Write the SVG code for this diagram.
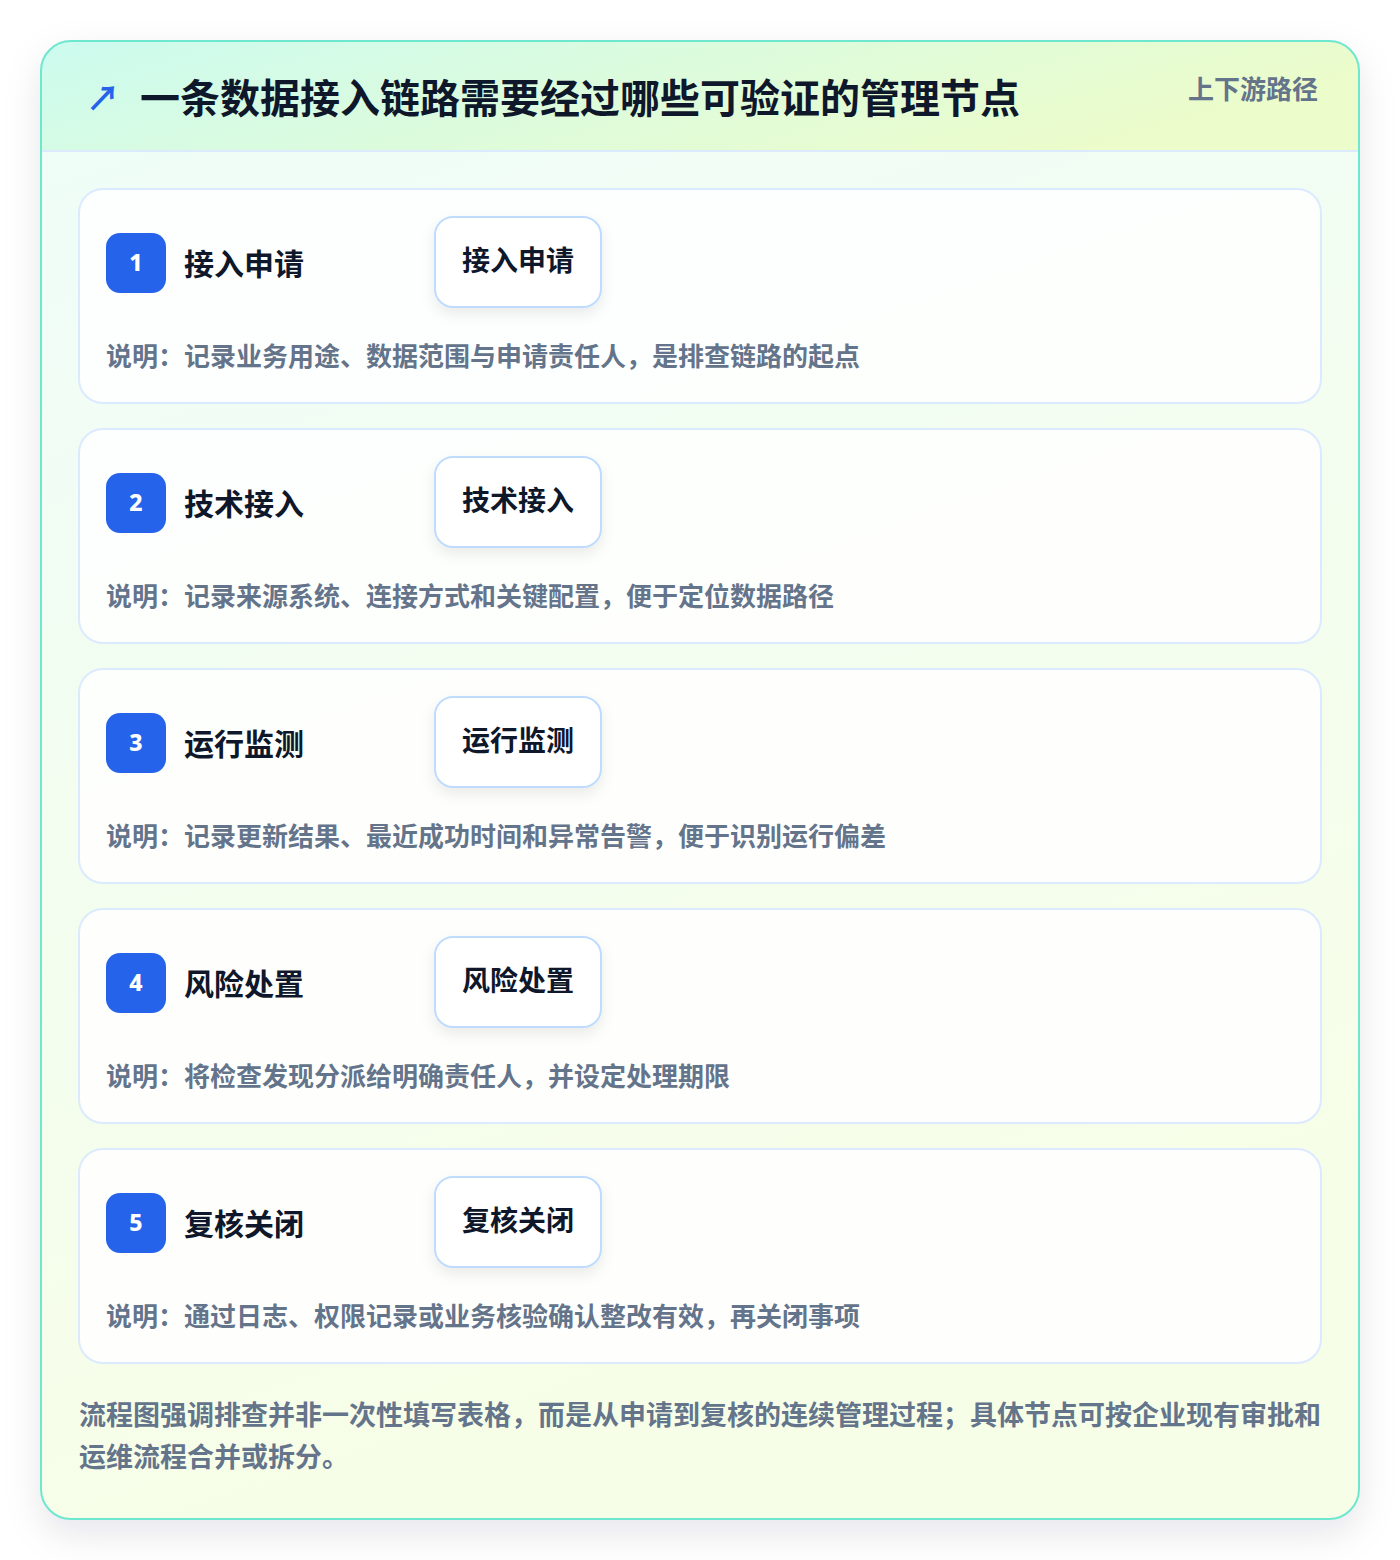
<svg xmlns="http://www.w3.org/2000/svg" width="1400" height="1560" viewBox="0 0 1400 1560">
<defs>
<linearGradient id="hdr" x1="0" y1="0" x2="1" y2="0.3">
<stop offset="0" stop-color="#ccfbef"/>
<stop offset="1" stop-color="#ecfccb"/>
</linearGradient>
<linearGradient id="body" x1="0" y1="0" x2="0.3" y2="1">
<stop offset="0" stop-color="#effdf9"/>
<stop offset="1" stop-color="#f7fee7"/>
</linearGradient>
<clipPath id="outerClip"><rect x="41" y="41" width="1318" height="1478" rx="30"/></clipPath>
<filter id="sh" x="-10%" y="-10%" width="120%" height="120%">
<feDropShadow dx="0" dy="14" stdDeviation="18" flood-color="#0f172a" flood-opacity="0.10"/>
</filter>
<filter id="bsh" x="-20%" y="-20%" width="140%" height="160%">
<feDropShadow dx="0" dy="6" stdDeviation="7" flood-color="#0f172a" flood-opacity="0.08"/>
</filter>
<style>
text{font-family:"Noto Sans CJK SC","Noto Sans",sans-serif;font-weight:700}
.card{fill:#ffffff;fill-opacity:0.85;stroke:#dbeafe;stroke-width:2}
.badge{fill:#2563eb}
.num{fill:#ffffff;font-size:23px;text-anchor:middle;font-family:"Noto Sans","Noto Sans CJK SC",sans-serif;font-weight:800}
.ttl{fill:#0f172a;font-size:30px}
.btn{fill:#ffffff;stroke:#bfdbfe;stroke-width:2}
.btxt{fill:#0f172a;font-size:28px;text-anchor:middle}
.desc{fill:#64748b;font-size:26px}
.foot{fill:#64748b;font-size:27px}
</style>
</defs>
<rect width="1400" height="1560" fill="#ffffff"/>
<g id="frame">
<rect x="41" y="41" width="1318" height="1478" rx="30" fill="url(#body)" filter="url(#sh)"/>
<g clip-path="url(#outerClip)">
<rect x="41" y="41" width="1318" height="110" fill="url(#hdr)"/>
<line x1="41" y1="151" x2="1359" y2="151" stroke="#dbeafe" stroke-width="2"/>
</g>
<rect x="41" y="41" width="1318" height="1478" rx="30" fill="none" stroke="#6ee7cf" stroke-width="2"/>
</g>
<g id="header">
<text x="86" y="111" font-size="34" fill="#2563eb" font-family="DejaVu Sans,sans-serif" font-weight="700">↗</text>
<text x="140" y="113" font-size="40" fill="#0f172a">一条数据接入链路需要经过哪些可验证的管理节点</text>
<text x="1318" y="99" font-size="26" fill="#64748b" text-anchor="end">上下游路径</text>
</g>
<g id="step1">
<rect class="card" x="79" y="189" width="1242" height="214" rx="24"/>
<rect class="badge" x="106" y="233" width="60" height="60" rx="14"/>
<text class="num" x="136" y="271">1</text>
<text class="ttl" x="184" y="275">接入申请</text>
<rect class="btn" x="435" y="217" width="166" height="90" rx="18" filter="url(#bsh)"/>
<text class="btxt" x="518" y="271">接入申请</text>
<text class="desc" x="106" y="366">说明：记录业务用途、数据范围与申请责任人，是排查链路的起点</text>
</g>
<g id="step2">
<rect class="card" x="79" y="429" width="1242" height="214" rx="24"/>
<rect class="badge" x="106" y="473" width="60" height="60" rx="14"/>
<text class="num" x="136" y="511">2</text>
<text class="ttl" x="184" y="515">技术接入</text>
<rect class="btn" x="435" y="457" width="166" height="90" rx="18" filter="url(#bsh)"/>
<text class="btxt" x="518" y="511">技术接入</text>
<text class="desc" x="106" y="606">说明：记录来源系统、连接方式和关键配置，便于定位数据路径</text>
</g>
<g id="step3">
<rect class="card" x="79" y="669" width="1242" height="214" rx="24"/>
<rect class="badge" x="106" y="713" width="60" height="60" rx="14"/>
<text class="num" x="136" y="751">3</text>
<text class="ttl" x="184" y="755">运行监测</text>
<rect class="btn" x="435" y="697" width="166" height="90" rx="18" filter="url(#bsh)"/>
<text class="btxt" x="518" y="751">运行监测</text>
<text class="desc" x="106" y="846">说明：记录更新结果、最近成功时间和异常告警，便于识别运行偏差</text>
</g>
<g id="step4">
<rect class="card" x="79" y="909" width="1242" height="214" rx="24"/>
<rect class="badge" x="106" y="953" width="60" height="60" rx="14"/>
<text class="num" x="136" y="991">4</text>
<text class="ttl" x="184" y="995">风险处置</text>
<rect class="btn" x="435" y="937" width="166" height="90" rx="18" filter="url(#bsh)"/>
<text class="btxt" x="518" y="991">风险处置</text>
<text class="desc" x="106" y="1086">说明：将检查发现分派给明确责任人，并设定处理期限</text>
</g>
<g id="step5">
<rect class="card" x="79" y="1149" width="1242" height="214" rx="24"/>
<rect class="badge" x="106" y="1193" width="60" height="60" rx="14"/>
<text class="num" x="136" y="1231">5</text>
<text class="ttl" x="184" y="1235">复核关闭</text>
<rect class="btn" x="435" y="1177" width="166" height="90" rx="18" filter="url(#bsh)"/>
<text class="btxt" x="518" y="1231">复核关闭</text>
<text class="desc" x="106" y="1326">说明：通过日志、权限记录或业务核验确认整改有效，再关闭事项</text>
</g>
<g id="connectors"></g>
<g id="footer">
<text class="foot" x="79" y="1425">流程图强调排查并非一次性填写表格，而是从申请到复核的连续管理过程；具体节点可按企业现有审批和</text>
<text class="foot" x="79" y="1467">运维流程合并或拆分。</text>
</g>
</svg>
